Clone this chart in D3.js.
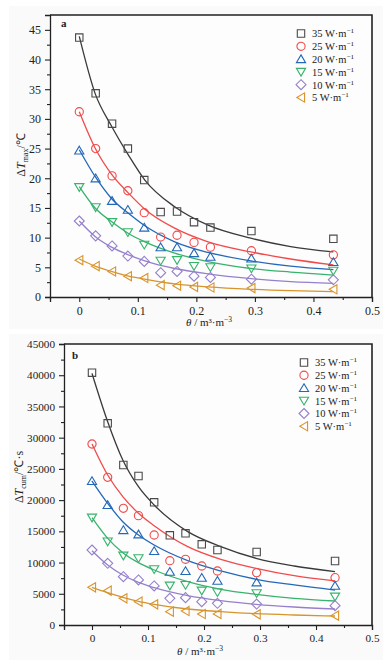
<!DOCTYPE html>
<html><head><meta charset="utf-8">
<script src="https://cdn.jsdelivr.net/npm/d3@7"></script>
<style>body{margin:0;background:#fff}svg{display:block}text{font-family:"Liberation Serif","Times New Roman",serif;fill:#222}</style>
</head><body><svg id="c" width="389" height="665"></svg>
<script>
// ---------- DATA ----------
const seriesPower = ["35", "25", "20", "15", "10", "5"];
const seriesColors = ["#4a4a4a", "#f04b4b", "#2468b8", "#37b36c", "#9580cc", "#d8942c"];
const curveColors = ["#3a3a3a", "#f04b4b", "#2468b8", "#37b36c", "#9580cc", "#d8942c"];
const seriesShapes = ["square", "circle", "triUp", "triDown", "diamond", "triLeft"];

const theta = [0, 0.028, 0.056, 0.083, 0.111, 0.139, 0.167, 0.196, 0.224, 0.294, 0.434];

// Panel a: ΔTmax (°C)
const dTmax35 = [43.7, 34.3, 29.2, 25.0, 19.7, 14.3, 14.4, 12.6, 11.7, 11.1, 9.8];
const dTmax25 = [31.2, 25.0, 20.4, 17.9, 14.2, 10.1, 10.4, 9.2, 8.4, 7.8, 7.1];
const dTmax20 = [24.7, 20.0, 16.2, 14.7, 11.7, 8.4, 8.4, 7.4, 6.8, 6.5, 5.9];
const dTmax15 = [18.5, 15.1, 12.6, 10.9, 8.8, 6.1, 6.2, 5.2, 5.0, 4.8, 4.4];
const dTmax10 = [12.8, 10.3, 8.6, 6.9, 6.0, 4.1, 4.3, 3.5, 3.3, 3.0, 2.9];
const dTmax5  = [6.2, 5.2, 4.3, 3.5, 3.2, 2.0, 1.9, 1.7, 1.6, 1.5, 1.3];

const fitThetaA = [0, 0.027, 0.055, 0.084, 0.112, 0.163, 0.22, 0.293, 0.361, 0.434];
const fitTmax35 = [43.9, 34.3, 28.8, 23.9, 19.7, 15.2, 12.1, 9.9, 8.5, 7.6];
const fitTmax25 = [31.2, 25.1, 20.7, 17.5, 14.8, 11.6, 9.3, 7.6, 6.4, 5.4];
const fitTmax20 = [24.8, 20.3, 16.6, 14.1, 12.0, 9.3, 7.5, 6.1, 5.2, 4.6];
const fitTmax15 = [18.6, 15.0, 12.7, 10.7, 9.3, 7.4, 5.95, 4.8, 4.2, 3.7];
const fitTmax10 = [12.8, 10.2, 8.4, 7.1, 6.1, 4.8, 3.9, 3.1, 2.6, 2.3];
const fitTmax5  = [6.4, 5.2, 4.3, 3.5, 3.0, 2.2, 1.7, 1.3, 1.06, 0.9];

// Panel b: ΔTcum (°C·s)
const dTcum35 = [40400, 32300, 25620, 23860, 19650, 14360, 14680, 12920, 12010, 11690, 10250];
const dTcum25 = [28990, 23650, 18690, 17510, 14410, 10300, 10520, 9450, 8650, 8380, 7580];
const dTcum20 = [23060, 19220, 15210, 14520, 11850, 8540, 8650, 7580, 7100, 6830, 6300];
const dTcum15 = [17190, 13350, 11100, 10680, 8920, 6300, 6400, 5500, 5230, 5070, 4540];
const dTcum10 = [12010, 9880, 7740, 7210, 6250, 4270, 4380, 3740, 3470, 3360, 3100];
const dTcum5  = [6030, 5500, 4270, 3740, 3310, 2140, 2240, 1760, 1780, 1710, 1500];

const fitThetaB = [0, 0.028, 0.055, 0.083, 0.111, 0.171, 0.23, 0.293, 0.361, 0.434];
const fitTcum35 = [40300, 32560, 26430, 22150, 19220, 14950, 12550, 10680, 9450, 8540];
const fitTcum25 = [29000, 24020, 20550, 17890, 15900, 12550, 10520, 9080, 7900, 7050];
const fitTcum20 = [23060, 19490, 16540, 14410, 12810, 10300, 8650, 7320, 6410, 5600];
const fitTcum15 = [17190, 13880, 11580, 9980, 8810, 6940, 5720, 4910, 4270, 3840];
const fitTcum10 = [11900, 9610, 8010, 6830, 5980, 4700, 3900, 3310, 2880, 2560];
const fitTcum5  = [6030, 5180, 4430, 3790, 3310, 2560, 2140, 1810, 1600, 1440];

const xTicks = [0, 0.1, 0.2, 0.3, 0.4, 0.5];
const xTickLabels = ["0", "0.1", "0.2", "0.3", "0.4", "0.5"];
const yTicksA = [0, 5, 10, 15, 20, 25, 30, 35, 40, 45];
const yTicksB = [0, 5000, 10000, 15000, 20000, 25000, 30000, 35000, 40000, 45000];

// ---------- DRAW ----------
const svg = d3.select("#c");

function shapePath(shape, cx, cy) {
  switch (shape) {
    case "square": { const h = 3.7; return `M${cx-h},${cy-h}h${2*h}v${2*h}h${-2*h}Z`; }
    case "circle": { const r = 4.1; return `M${cx-r},${cy}a${r},${r} 0 1,0 ${2*r},0a${r},${r} 0 1,0 ${-2*r},0Z`; }
    case "triUp": { const w = 4.6, h = 4.2; return `M${cx},${cy-h}L${cx+w},${cy+h*0.85}L${cx-w},${cy+h*0.85}Z`; }
    case "triDown": { const w = 4.6, h = 4.2; return `M${cx},${cy+h}L${cx+w},${cy-h*0.85}L${cx-w},${cy-h*0.85}Z`; }
    case "diamond": { const r = 5; return `M${cx},${cy-r}L${cx+r},${cy}L${cx},${cy+r}L${cx-r},${cy}Z`; }
    case "triLeft": { const w = 4.6, h = 4.2; return `M${cx-h},${cy}L${cx+h*0.85},${cy-w}L${cx+h*0.85},${cy+w}Z`; }
  }
}

function legendLabel(g, x, y, num, fs) {
  const t = g.append("text").attr("x", x).attr("y", y).attr("font-size", fs);
  t.append("tspan").text(num + " W·m");
  t.append("tspan").attr("dy", -fs * 0.38).attr("font-size", fs * 0.68).text("−1");
}

function panel(cfg) {
  const x = d3.scaleLinear().domain([-0.05, 0.5]).range([cfg.left, cfg.right]);
  const y = d3.scaleLinear().domain(cfg.yDomain).range([cfg.bottom, cfg.top]);
  const g = svg.append("g");

  // light panel background
  g.append("rect").attr("x", cfg.bg[0]).attr("y", cfg.bg[1]).attr("width", cfg.bg[2]).attr("height", cfg.bg[3]).attr("fill", "#fafafa");
  g.append("rect").attr("x", cfg.left).attr("y", cfg.top).attr("width", cfg.right - cfg.left).attr("height", cfg.bottom - cfg.top).attr("fill", "#fdfdfd");

  // minor ticks
  const xMinor = d3.range(-0.05, 0.5001, 0.05).filter(v => Math.abs(Math.round(v * 10) - v * 10) > 1e-6);
  g.append("g").attr("transform", `translate(0,${cfg.bottom})`)
    .call(d3.axisBottom(x).tickValues(xMinor).tickSize(3).tickFormat(""))
    .call(a => a.select(".domain").remove());
  const yMinor = cfg.yTicks.slice(0, -1).map((v, i) => (v + cfg.yTicks[i + 1]) / 2);
  g.append("g").attr("transform", `translate(${cfg.left},0)`)
    .call(d3.axisLeft(y).tickValues(yMinor).tickSize(3).tickFormat(""))
    .call(a => a.select(".domain").remove());

  // major axes
  const xa = g.append("g").attr("transform", `translate(0,${cfg.bottom})`)
    .call(d3.axisBottom(x).tickValues(xTicks).tickSize(5).tickPadding(4).tickFormat((d, i) => xTickLabels[i]));
  xa.selectAll("text").attr("font-size", cfg.tickFs).attr("font-family", "Liberation Serif").attr("fill", "#1a1a1a");
  const ya = g.append("g").attr("transform", `translate(${cfg.left},0)`)
    .call(d3.axisLeft(y).tickValues(cfg.yTicks).tickSize(5).tickPadding(4).tickFormat(d3.format("d")));
  ya.selectAll("text").attr("font-size", cfg.tickFs).attr("font-family", "Liberation Serif").attr("fill", "#1a1a1a");
  g.selectAll(".domain").attr("stroke", "#222").attr("stroke-width", 1.3);
  g.selectAll(".tick line").attr("stroke", "#222").attr("stroke-width", 1.1);
  // frame top/right
  g.append("path").attr("d", `M${cfg.left},${cfg.top}H${cfg.right}V${cfg.bottom}`).attr("fill", "none").attr("stroke", "#222").attr("stroke-width", 1.6);

  // curves
  const line = d3.line().x(d => x(d[0])).y(d => y(d[1])).curve(d3.curveMonotoneX);
  cfg.fits.forEach((f, i) => {
    g.append("path").attr("d", line(cfg.fitTheta.map((t, j) => [t, f[j]])))
      .attr("fill", "none").attr("stroke", curveColors[i]).attr("stroke-width", 1.3);
  });
  // markers
  cfg.series.forEach((s, i) => {
    g.append("g").selectAll("path").data(s).join("path")
      .attr("d", (v, j) => shapePath(seriesShapes[i], x(theta[j]), y(v)))
      .attr("fill", "none").attr("stroke", seriesColors[i]).attr("stroke-width", 1.1);
  });

  // legend
  seriesPower.forEach((p, i) => {
    const ly = cfg.legY + i * cfg.legStep;
    g.append("path").attr("d", shapePath(seriesShapes[i], cfg.legX, ly)).attr("fill", "none").attr("stroke", seriesColors[i]).attr("stroke-width", 1.1);
    legendLabel(g, cfg.legX + 11, ly + 3.8, p, 10.5);
  });

  // panel label
  g.append("text").attr("x", cfg.lab[0]).attr("y", cfg.lab[1]).attr("font-size", 11).attr("font-weight", "bold").text(cfg.label);

  // x title
  const xt = g.append("text").attr("x", cfg.xTitle[0]).attr("y", cfg.xTitle[1]).attr("text-anchor", "middle").attr("font-size", 11);
  xt.append("tspan").attr("font-style", "italic").text("θ");
  xt.append("tspan").text(" / m³·m");
  xt.append("tspan").attr("dy", -4).attr("font-size", 7.5).text("−3");

  // y title
  const yt = g.append("text").attr("transform", `translate(${cfg.yTitle[0]},${cfg.yTitle[1]}) rotate(-90)`).attr("text-anchor", "middle").attr("font-size", 12);
  yt.append("tspan").text("Δ");
  yt.append("tspan").attr("font-style", "italic").text("T");
  yt.append("tspan").attr("dy", 3).attr("font-size", 8).text(cfg.sub);
  yt.append("tspan").attr("dy", -3).text(cfg.unit);
}

panel({
  left: 50, right: 372, top: 15, bottom: 297, yDomain: [0, 47.5], yTicks: yTicksA, tickFs: 12,
  bg: [9, 6, 374, 323],
  series: [dTmax35, dTmax25, dTmax20, dTmax15, dTmax10, dTmax5],
  fitTheta: fitThetaA, fits: [fitTmax35, fitTmax25, fitTmax20, fitTmax15, fitTmax10, fitTmax5],
  legX: 301, legY: 33.5, legStep: 12.8, lab: [61, 27], label: "a",
  xTitle: [209, 326], yTitle: [25, 155], sub: "max", unit: "/℃"
});
panel({
  left: 64, right: 372, top: 344, bottom: 625, yDomain: [0, 45000], yTicks: yTicksB, tickFs: 11.2,
  bg: [9, 334, 374, 326],
  series: [dTcum35, dTcum25, dTcum20, dTcum15, dTcum10, dTcum5],
  fitTheta: fitThetaB, fits: [fitTcum35, fitTcum25, fitTcum20, fitTcum15, fitTcum10, fitTcum5],
  legX: 304, legY: 362.5, legStep: 12.75, lab: [72, 359], label: "b",
  xTitle: [200, 655], yTitle: [23, 477], sub: "cum", unit: "/℃·s"
});
</script></body></html>
